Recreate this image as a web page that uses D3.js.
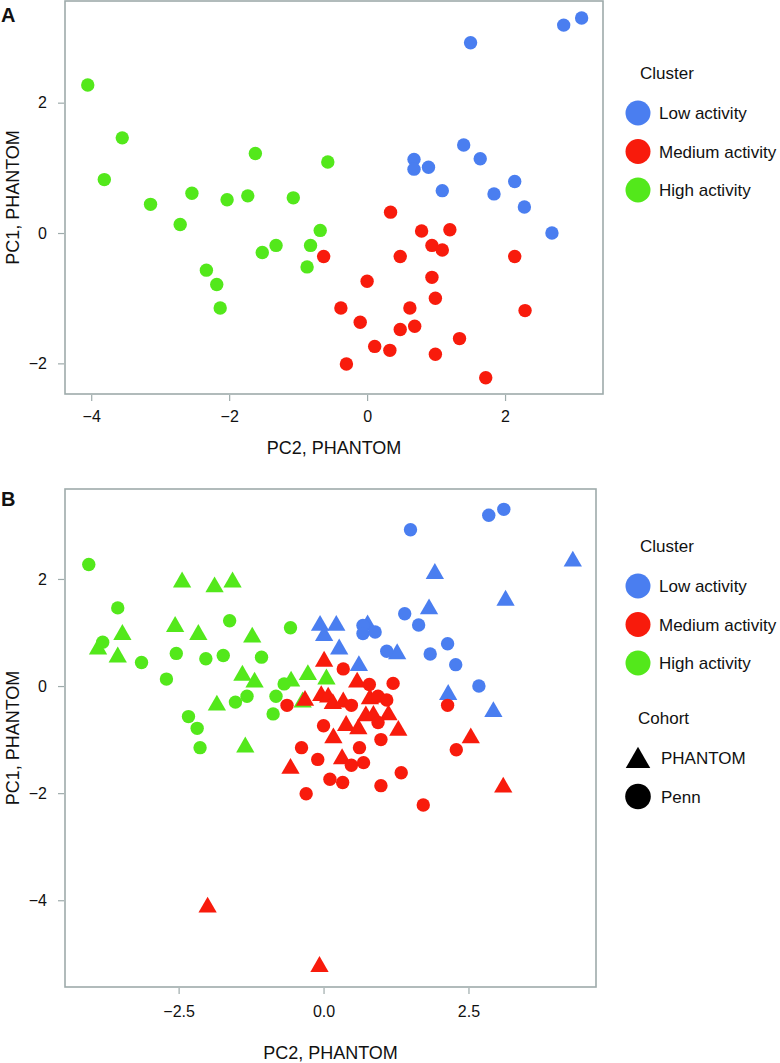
<!DOCTYPE html>
<html lang="en">
<head>
<meta charset="UTF-8">
<title>PCA clusters</title>
<script src="https://cdn.jsdelivr.net/npm/d3@7"></script>
<style>
  body { margin: 0; background: #fff; }
  text { font-family: "Liberation Sans", Arial, Helvetica, sans-serif; fill: #111; }
</style>
</head>
<body>
<script>

// cluster names and colours
var clusters = ["Low activity", "Medium activity", "High activity"];
var clusterColors = ["#4a7ef0", "#f81b0c", "#53e81b"];
var cohorts = ["PHANTOM", "Penn"];

// Penn samples (circles) : [PC2, PC1]
var pennLow = [[1.50, 2.92], [2.85, 3.19], [3.11, 3.30], [1.40, 1.35], [1.64, 1.14],
    [0.68, 1.13], [0.68, 0.98], [0.89, 1.01], [1.09, 0.65], [1.84, 0.60],
    [2.14, 0.79], [2.28, 0.40], [2.68, 0.00]];
var pennMedium = [[-0.63, -0.36], [0.34, 0.32], [0.00, -0.74], [-0.38, -1.15], [-0.10, -1.37],
    [0.11, -1.74], [0.33, -1.80], [-0.30, -2.01], [0.79, 0.03], [1.20, 0.05],
    [0.94, -0.19], [1.09, -0.26], [0.48, -0.36], [2.14, -0.36], [0.94, -0.68],
    [0.99, -1.00], [0.62, -1.15], [2.29, -1.19], [0.48, -1.48], [0.69, -1.43],
    [1.34, -1.62], [0.99, -1.86], [1.72, -2.22]];
var pennHigh = [[-4.05, 2.27], [-3.55, 1.46], [-3.81, 0.82], [-3.14, 0.44], [-2.71, 0.13],
    [-2.54, 0.61], [-2.03, 0.51], [-1.73, 0.57], [-1.62, 1.22], [-1.07, 0.54],
    [-0.57, 1.09], [-0.68, 0.04], [-0.82, -0.19], [-1.32, -0.19], [-1.52, -0.30],
    [-0.87, -0.52], [-2.33, -0.57], [-2.18, -0.79], [-2.13, -1.15]];

// PHANTOM samples (triangles) : [PC2, PC1]
var phantomLow = [[1.92, 2.10], [4.30, 2.33], [3.14, 1.60], [1.82, 1.44], [-0.06, 1.13],
    [0.22, 1.13], [0.01, 0.94], [0.27, 0.69], [0.76, 1.14], [1.27, 0.60],
    [0.61, 0.38], [2.15, -0.16], [2.93, -0.48]];
var phantomMedium = [[0.01, 0.46], [0.58, 0.07], [-0.32, -0.27], [-0.04, -0.18], [0.08, -0.21],
    [0.16, -0.33], [0.34, -0.30], [0.80, -0.24], [0.39, -0.74], [0.60, -0.80],
    [0.73, -0.56], [0.86, -0.55], [1.12, -0.54], [1.29, -0.83], [0.17, -0.97],
    [0.32, -1.36], [-0.57, -1.54], [2.54, -0.97], [3.10, -1.89], [-2.00, -4.13],
    [-0.07, -5.24]];
var phantomHigh = [[-2.44, 1.94], [-1.88, 1.85], [-1.57, 1.94], [-2.56, 1.11], [-2.16, 0.96],
    [-3.47, 0.96], [-3.89, 0.69], [-3.55, 0.54], [-1.23, 0.91], [-1.40, 0.20],
    [-1.19, 0.07], [-1.84, -0.36], [-1.35, -1.14], [-0.56, 0.09], [-0.27, 0.21],
    [0.05, 0.13], [-0.36, -0.30]];

// axis ticks
var ticksAX = [-4, -2, 0, 2];
var ticksAY = [-2, 0, 2];
var ticksBX = [-2.5, 0, 2.5];
var ticksBY = [-4, -2, 0, 2];

var width = 780, height = 1063;
var gray = "#9eabab";

var svg = d3.select("body").append("svg")
    .attr("width", width)
    .attr("height", height);

function panel(opt) {
    var g = svg.append("g");
    var x = d3.scaleLinear().domain(opt.xDomain).range([opt.left, opt.right]);
    var y = d3.scaleLinear().domain(opt.yDomain).range([opt.bottom, opt.top]);

    g.append("rect")
        .attr("x", opt.left).attr("y", opt.top)
        .attr("width", opt.right - opt.left)
        .attr("height", opt.bottom - opt.top)
        .attr("fill", "none")
        .attr("stroke", gray)
        .attr("stroke-width", 1.6);

    var xa = g.append("g")
        .attr("transform", "translate(0," + (opt.bottom + 1) + ")")
        .call(d3.axisBottom(x).tickValues(opt.xTicks).tickFormat(d3.format(opt.xFmt))
            .tickSize(6).tickSizeOuter(0).tickPadding(opt.xPad));
    var ya = g.append("g")
        .attr("transform", "translate(" + (opt.left - 1) + ",0)")
        .call(d3.axisLeft(y).tickValues(opt.yTicks).tickFormat(d3.format("d"))
            .tickSize(6).tickSizeOuter(0).tickPadding(11));
    [xa, ya].forEach(function(a) {
        a.select(".domain").remove();
        a.selectAll("line").attr("stroke", gray).attr("stroke-width", 1.2);
        a.selectAll("text").attr("font-size", 16).attr("fill", "#111")
            .attr("font-family", "'Liberation Sans', Arial, sans-serif");
    });

    g.append("text")
        .attr("x", (opt.left + opt.right) / 2)
        .attr("y", opt.bottom + opt.titleOff)
        .attr("text-anchor", "middle")
        .attr("font-size", 18)
        .text("PC2, PHANTOM");
    g.append("text")
        .attr("transform", "translate(19," + ((opt.top + opt.bottom) / 2) + ") rotate(-90)")
        .attr("text-anchor", "middle")
        .attr("font-size", 18)
        .text("PC1, PHANTOM");
    g.append("text")
        .attr("x", 1).attr("y", opt.labelY)
        .attr("font-size", 20)
        .attr("font-weight", "bold")
        .text(opt.label);

    // points: draw green, blue, red
    var order = [2, 0, 1];
    order.forEach(function(ci) {
        if (opt.triangles) {
            g.selectAll(null)
                .data(opt.triangles[ci])
                .enter().append("path")
                .attr("d", d3.symbol().type(d3.symbolTriangle).size(145))
                .attr("transform", function(d) { return "translate(" + x(d[0]) + "," + y(d[1]) + ")"; })
                .attr("fill", clusterColors[ci]);
        }
        g.selectAll(null)
            .data(opt.circles[ci])
            .enter().append("circle")
            .attr("cx", function(d) { return x(d[0]); })
            .attr("cy", function(d) { return y(d[1]); })
            .attr("r", 6.7)
            .attr("fill", clusterColors[ci]);
    });

    // legend
    var lg = g.append("g");
    lg.append("text").attr("x", 640).attr("y", opt.legendTop).attr("font-size", 17).text("Cluster");
    clusters.forEach(function(c, i) {
        var cy = opt.legendTop + 40 + i * 38.5;
        lg.append("circle").attr("cx", 638).attr("cy", cy - 6).attr("r", 12.5).attr("fill", clusterColors[i]);
        lg.append("text").attr("x", 659).attr("y", cy).attr("font-size", 17).text(c);
    });
    if (opt.triangles) {
        var ct = opt.legendTop + 172;
        lg.append("text").attr("x", 638).attr("y", ct).attr("font-size", 17).text("Cohort");
        cohorts.forEach(function(c, i) {
            var cy = ct + 40 + i * 38.5;
            if (i === 0) {
                lg.append("path")
                    .attr("d", d3.symbol().type(d3.symbolTriangle).size(260))
                    .attr("transform", "translate(638," + (cy - 3) + ")")
                    .attr("fill", "#000");
            } else {
                lg.append("circle").attr("cx", 638).attr("cy", cy - 6).attr("r", 12.8).attr("fill", "#000");
            }
            lg.append("text").attr("x", 661).attr("y", cy).attr("font-size", 17).text(c);
        });
    }
}

panel({
    label: "A", labelY: 22,
    left: 65, right: 603, top: 1, bottom: 394,
    xDomain: [-4.38, 3.42], yDomain: [-2.47, 3.56],
    xTicks: ticksAX, yTicks: ticksAY, xFmt: "d", xPad: 10, titleOff: 60,
    circles: [pennLow, pennMedium, pennHigh],
    legendTop: 79
});

panel({
    label: "B", labelY: 506,
    left: 65, right: 596, top: 489, bottom: 987,
    xDomain: [-4.46, 4.70], yDomain: [-5.62, 3.68],
    xTicks: ticksBX, yTicks: ticksBY, xFmt: ".1f", xPad: 12, titleOff: 72,
    circles: [pennLow, pennMedium, pennHigh],
    triangles: [phantomLow, phantomMedium, phantomHigh],
    legendTop: 552
});

</script>
</body>
</html>
